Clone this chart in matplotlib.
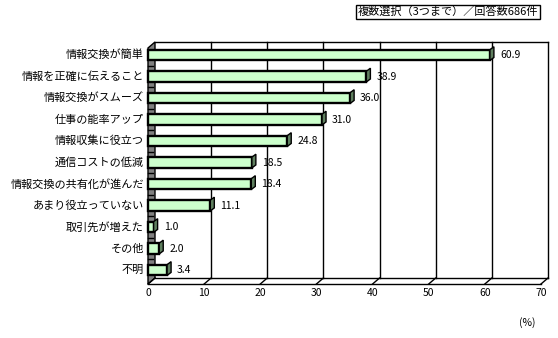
import matplotlib
matplotlib.use('Agg')
import matplotlib.pyplot as plt
import matplotlib.transforms as mtransforms
from matplotlib.patches import Polygon, Rectangle

plt.rcParams['font.family'] = ['Noto Sans CJK JP', 'DejaVu Sans']

# data
categories = ['情報交換が簡単', '情報を正確に伝えること', '情報交換がスムーズ',
              '仕事の能率アップ', '情報収集に役立つ', '通信コストの低減',
              '情報交換の共有化が進んだ', 'あまり役立っていない', '取引先が増えた',
              'その他', '不明']
values = [60.9, 38.9, 36.0, 31.0, 24.8, 18.5, 18.4, 11.1, 1.0, 2.0, 3.4]
xticks = [0, 10, 20, 30, 40, 50, 60, 70]
note = '複数選択（3つまで）／回答数686件'
unit = '(%)'

W, H = 558, 338
fig = plt.figure(figsize=(W / 100, H / 100), dpi=100)
ax = fig.add_axes([148 / W, 1 - 284 / H, (541 - 148) / W, (284 - 48) / H])
ax.set_xlim(0, 70)
ax.set_ylim(10.65, -0.33)
ax.axis('off')

# depth of the box (pixels)
DX, DY = 7, 6
shift = mtransforms.Affine2D().translate(DX, DY)
back_ax = ax.transAxes + shift
back_x = ax.get_xaxis_transform() + shift
xa = ax.get_xaxis_transform()
ya = ax.get_yaxis_transform()

# left wall (gray)
p0 = ax.transAxes.transform((0, 0))
p1 = ax.transAxes.transform((0, 1))
poly = [p0, p1, (p1[0] + DX, p1[1] + DY), (p0[0] + DX, p0[1] + DY)]
ax.add_patch(Polygon(poly, closed=True, transform=None, facecolor='#808080',
                     edgecolor='black', lw=1, zorder=1, clip_on=False))
# small ticks on the wall between categories
for i in range(len(categories) - 1):
    ax.plot([0, 0.012], [i + 0.5, i + 0.5], color='black', lw=1,
            transform=ya, zorder=1.5, clip_on=False)

# back wall frame and gridlines
for x in xticks[1:]:
    ax.plot([x, x], [0, 1], color='black', lw=1, transform=back_x,
            zorder=1, clip_on=False)
ax.plot([0, 1], [1, 1], color='black', lw=1, transform=back_ax,
        zorder=1, clip_on=False)

# floor
ax.plot([0, 1], [0, 0], color='black', lw=1, transform=ax.transAxes,
        zorder=1, clip_on=False)
ax.plot([0, 1], [0, 0], color='black', lw=1, transform=back_ax,
        zorder=1, clip_on=False)
for x in xticks:
    a = xa.transform((x, 0))
    ax.plot([a[0], a[0] + DX], [a[1], a[1] + DY], color='black', lw=1,
            transform=None, zorder=1, clip_on=False)

# bars with a dark side face
bh = 0.5
SX, SY = 4, 3
for i, v in enumerate(values):
    ax.add_patch(Rectangle((0, i - bh / 2), v, bh, facecolor='#ccffcc',
                           edgecolor='black', lw=1.7, zorder=3, clip_on=False))
    top = ax.transData.transform((v, i - bh / 2))
    bot = ax.transData.transform((v, i + bh / 2))
    side = [top, (top[0] + SX, top[1] + SY), (bot[0] + SX, bot[1] + SY), bot]
    ax.add_patch(Polygon(side, closed=True, transform=None, facecolor='#5f7f5f',
                         edgecolor='black', lw=1, zorder=3, clip_on=False))
    ax.annotate('%.1f' % v, (v, i), xytext=(10, 0), textcoords='offset pixels',
                ha='left', va='center', fontsize=7.5, zorder=4)
    ax.annotate(categories[i], (0, i), xycoords=('axes fraction', 'data'),
                xytext=(-4, 0), textcoords='offset pixels',
                ha='right', va='center', fontsize=8)

# x tick labels
for x in xticks:
    ax.annotate(str(x), (x, 0), xycoords=('data', 'axes fraction'),
                xytext=(0, -9), textcoords='offset pixels',
                ha='center', va='center', fontsize=7.5)

fig.text(538 / W, 1 - 12 / H, note, ha='right', va='center', fontsize=8,
         bbox=dict(facecolor='white', edgecolor='black', lw=1,
                   boxstyle='square,pad=0.15'))
fig.text(527 / W, 1 - 323 / H, unit, ha='center', va='center', fontsize=7.5)

fig.savefig('out.png', dpi=100)
